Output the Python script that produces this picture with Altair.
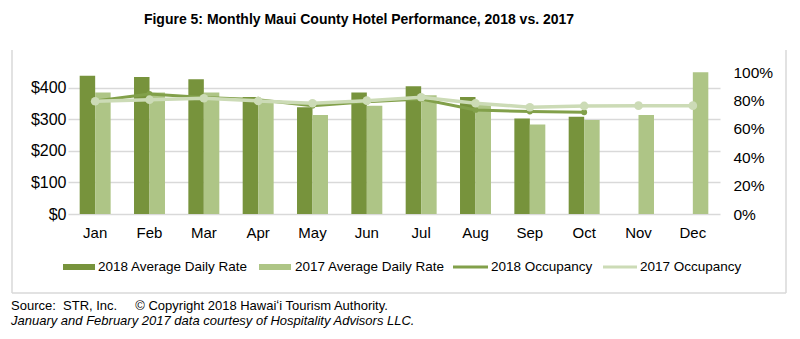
import altair as alt
import pandas as pd

months = ["Jan", "Feb", "Mar", "Apr", "May", "Jun", "Jul", "Aug", "Sep", "Oct", "Nov", "Dec"]
adr_2018 = [438, 434, 427, 371, 338, 385, 405, 371, 303, 308, None, None]
adr_2017 = [385, 385, 385, 355, 314, 343, 376, 350, 284, 298, 314, 449]
occ_2018 = [0.795, 0.845, 0.82, 0.805, 0.763, 0.79, 0.81, 0.733, 0.721, 0.717, None, None]
occ_2017 = [0.794, 0.805, 0.815, 0.796, 0.78, 0.798, 0.822, 0.78, 0.752, 0.761, 0.763, 0.763]
series = ["2018 Average Daily Rate", "2017 Average Daily Rate", "2018 Occupancy", "2017 Occupancy"]
colors = ["#77933C", "#AEC586", "#82A04A", "#CCDBB6"]
title_text = "Figure 5: Monthly Maui County Hotel Performance, 2018 vs. 2017"
source_1 = "Source:\u00a0\u00a0STR, Inc.\u00a0\u00a0\u00a0\u00a0\u00a0\u00a9 Copyright 2018 Hawai\u02bbi Tourism Authority."
source_2 = "January and February 2017 data courtesy of Hospitality Advisors LLC."

FONT = "Liberation Sans"

rows = []
for m, v in zip(months, adr_2018):
    if v is not None:
        rows.append({"month": m, "series": series[0], "adr": v})
for m, v in zip(months, adr_2017):
    if v is not None:
        rows.append({"month": m, "series": series[1], "adr": v})
adr_df = pd.DataFrame(rows)

occ18_df = pd.DataFrame({"month": months, "occ": occ_2018, "series": series[2]}).dropna()
occ17_df = pd.DataFrame({"month": months, "occ": occ_2017, "series": series[3]}).dropna()

color_scale = alt.Scale(domain=series, range=colors)
x_enc = alt.X("month:N", sort=months,
              scale=alt.Scale(domain=months, paddingInner=0.43, paddingOuter=0.215),
              axis=alt.Axis(title=None, domain=False, ticks=False, labelAngle=0,
                            labelFontSize=15, labelFont=FONT, labelColor="#000000",
                            labelPadding=11))

bars = alt.Chart(adr_df).mark_bar().encode(
    x=x_enc,
    xOffset=alt.XOffset("series:N", sort=series[:2],
                        scale=alt.Scale(domain=series[:2], paddingInner=0, paddingOuter=0)),
    y=alt.Y("adr:Q", scale=alt.Scale(domain=[0, 450], nice=False),
            axis=alt.Axis(title=None, values=[0, 100, 200, 300, 400], format="$,.0f",
                          domain=False, ticks=False, grid=True, gridColor="#D9D9D9",
                          gridWidth=1.5, labelFontSize=16, labelFont=FONT,
                          labelColor="#000000", labelPadding=2)),
    color=alt.Color("series:N", scale=color_scale, legend=None),
)

occ_y_axis = alt.Axis(title=None, orient="right", values=[0, 0.2, 0.4, 0.6, 0.8, 1.0],
                      format=".0%", domain=False, ticks=False, grid=False,
                      labelFontSize=15.5, labelFont=FONT, labelColor="#000000",
                      labelPadding=13)
occ_scale = alt.Scale(domain=[0, 1], nice=False)

def occ_layers(df, width, size):
    y_enc = alt.Y("occ:Q", scale=occ_scale, axis=occ_y_axis)
    line = alt.Chart(df).mark_line(strokeWidth=width).encode(
        x=alt.X("month:N", sort=months), y=y_enc,
        color=alt.Color("series:N", scale=color_scale, legend=None))
    pts = alt.Chart(df).mark_point(filled=True, opacity=1, shape="circle", size=size).encode(
        x=alt.X("month:N", sort=months), y=y_enc,
        color=alt.Color("series:N", scale=color_scale, legend=None))
    return [line, pts]

occ = alt.layer(*(occ_layers(occ18_df, 3, 35) + occ_layers(occ17_df, 3.5, 75)))

main = alt.layer(bars, occ).resolve_scale(y="independent")

one = pd.DataFrame({"k": [0]})

def text_layer(txt, x, y, size=13, weight="normal", style="normal", align="left"):
    return alt.Chart(one).mark_text(
        text=txt, font=FONT, fontSize=size, fontWeight=weight, fontStyle=style,
        align=align, baseline="middle", color="#000000"
    ).encode(x=alt.value(x), y=alt.value(y))

def rule_layer(x, x2, y, y2, color="#D9D9D9", width=1.5):
    return alt.Chart(one).mark_rule(color=color, strokeWidth=width).encode(
        x=alt.value(x), x2=alt.value(x2), y=alt.value(y), y2=alt.value(y2))

decor = []
# frame box (left, right, bottom sides)
decor.append(rule_layer(-56, -56, -22, 221))
decor.append(rule_layer(718, 718, -22, 221))
decor.append(rule_layer(-56, 718, 221, 221))
# title
decor.append(text_layer(title_text, 291, -52, size=14, weight="bold", align="center"))
# legend
leg_y = 195
leg_items = [(-5, 27, 30, 6), (191, 223, 227, 6), (385, 420, 423, 3), (535, 569, 572, 3)]
for i, (sx, sx2, tx, w) in enumerate(leg_items):
    decor.append(rule_layer(sx, sx2, leg_y, leg_y, color=colors[i], width=w))
    decor.append(text_layer(series[i], tx, leg_y, size=13.5))
# source lines
decor.append(text_layer(source_1, -57, 234, size=13))
decor.append(text_layer(source_2, -57, 249, size=13, style="italic"))

chart = alt.layer(main, *decor).properties(
    width=652, height=142,
    autosize=alt.AutoSizeParams(type="none"),
    padding={"left": 68, "top": 72, "right": 80, "bottom": 125},
    background="#FFFFFF",
).configure_view(strokeWidth=0)

chart.save("out.html", embed_options={"renderer": "svg", "actions": False})
